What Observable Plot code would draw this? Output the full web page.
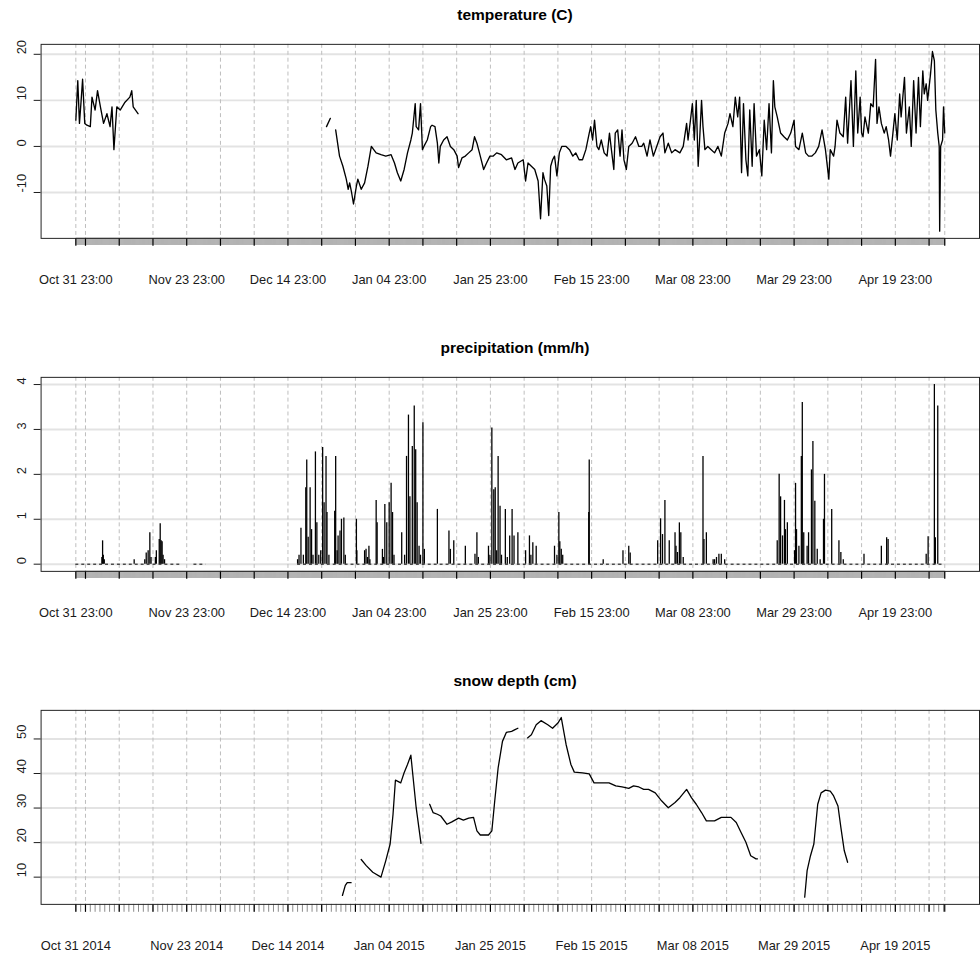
<!DOCTYPE html>
<html><head><meta charset="utf-8">
<script src="https://cdn.jsdelivr.net/npm/d3@7"></script>
<script src="https://cdn.jsdelivr.net/npm/@observablehq/plot@0.6"></script>
<style>
html,body{margin:0;padding:0;background:#fff;overflow:hidden;width:980px;height:958px}
.title{font:bold 15.5px "Liberation Sans",Arial,sans-serif;height:30px;line-height:30px;text-align:center;margin-left:41px;width:948px;color:#000}
svg{display:block}
</style></head>
<body>
<div id="root"></div>
<script>
// ---------------- DATA ----------------
// time is given in days after the first observation (2014-10-31 23:00)
const startTime = "2014-10-31T23:00:00Z";
const endDay = 180.25;

const tempDay = [0.0,0.4,0.75,1.1,1.4,1.85,2.3,3.0,3.35,4.0,4.5,5.1,5.75,6.45,7.1,7.5,7.9,8.5,9.2,10.2,11.2,11.6,11.9,12.9,
 null,
 52.0,52.8,
 null,
 53.9,54.4,54.7,55.4,56.1,56.5,56.8,57.2,57.6,58.2,58.5,59.2,59.9,60.6,61.3,61.6,62.3,63.3,64.3,65.4,66.1,66.7,67.4,68.1,68.8,69.5,69.8,70.4,70.6,71.1,71.5,71.9,72.2,72.9,73.6,73.9,74.5,75.0,75.3,75.6,76.3,77.0,77.7,78.4,79.1,79.4,80.1,80.8,81.5,82.2,82.7,83.2,83.9,84.6,85.2,85.9,86.6,87.3,88.3,89.3,90.4,91.1,91.7,92.8,93.3,93.8,94.5,95.2,95.9,96.4,96.9,97.2,97.7,98.1,98.5,98.9,99.3,99.8,100.3,100.8,101.7,102.4,103.1,103.7,104.4,105.1,105.8,106.5,106.8,107.2,107.6,108.1,108.5,109.0,109.6,110.2,110.7,111.1,111.6,111.9,112.4,112.9,113.3,113.7,114.2,114.7,115.4,116.1,116.8,117.4,
 117.8,118.5,119.1,119.8,120.5,121.2,121.8,122.2,122.9,123.6,124.3,125.3,126.0,126.7,127.0,127.5,127.9,128.3,128.7,129.1,129.4,129.8,130.1,130.5,131.1,131.8,132.5,133.2,133.9,134.6,135.3,135.7,136.3,136.8,137.3,137.7,138.1,138.5,139.0,139.4,139.8,140.3,140.7,141.2,141.8,142.3,142.8,143.3,143.8,144.3,144.7,145.0,145.5,146.2,146.9,147.6,148.3,149.0,149.3,150.0,150.7,151.4,152.0,152.7,153.4,154.1,154.8,155.5,156.2,156.5,157.2,157.5,157.9,158.5,159.2,159.7,160.1,160.8,161.3,161.8,162.2,162.7,163.0,163.3,163.7,164.4,164.9,165.4,165.9,166.2,166.6,167.1,167.7,168.1,168.6,169.0,169.5,169.9,170.4,170.9,171.2,171.9,172.3,172.9,173.3,173.8,174.3,174.8,175.2,175.7,176.0,176.4,176.7,177.3,177.7,178.1,178.4,178.8,179.1,179.2,179.4,179.8,180.0,180.25];
const tempC = [5.7,14.3,5.0,10,14.6,5.0,4.6,4.3,10.7,7.9,12.1,8.6,5.0,7.1,4.3,8.6,-0.7,8.6,7.9,9.6,10.7,12.1,8.6,7.1,
 null,
 4.3,6.1,
 null,
 3.6,0,-2.1,-4.3,-7.1,-9.3,-7.9,-10,-12.5,-8.6,-7.1,-9.3,-7.9,-4.3,0,-0.4,-1.4,-1.8,-2.1,-1.8,-3.6,-5.7,-7.5,-5.0,-1.4,1.4,2.9,9.3,4.3,3.6,9.3,-0.7,0,1.4,4.3,4.6,4.3,0.7,-3.6,0,1.4,2.1,0,-0.7,-2.1,-4.6,-2.5,-2.1,-1.4,-0.7,2.1,0.7,-2.1,-5.0,-3.6,-2.1,-2.1,-1.4,-1.8,-2.9,-2.5,-5.0,-3.6,-2.9,-7.5,-3.6,-4.3,-5.0,-7.5,-15.7,-5.7,-7.1,-8.6,-15.0,-4.3,-2.9,-2.1,-6.4,-1.4,0,0,-0.7,-2.1,-1.4,-2.9,-2.9,-0.7,2.9,4.3,1.4,5.7,0,-0.7,1.4,-1.4,-2.1,2.9,-0.7,-5.0,2.9,3.6,-2.1,3.6,-2.9,-5.0,0,0.7,2.1,0,0,
 0.7,-2.1,1.4,-2.1,0,2.1,2.9,-1.4,0.7,-1.4,-0.7,-1.4,0,5.0,1.4,5.7,9.3,1.4,10,-4.3,1.4,10,4.3,-0.7,0,-0.7,-1.4,0,-2.1,2.9,5.0,7.1,4.3,10.7,6.4,10.7,-5.7,9.3,-2.9,-6.4,7.9,-4.3,9.3,-2.1,-0.7,-6.4,5.7,-0.7,9.3,-1.4,14.3,8.6,6.4,2.9,2.1,1.4,2.9,5.7,0,-0.7,2.9,-1.4,-2.1,-2.1,-1.4,0,3.6,-0.7,-7.1,-0.7,-2.1,0,5.7,2.9,2.1,10.7,0.7,14.3,0,16.4,2.9,10.7,2.9,2.1,6.4,2.9,9.3,8.6,18.9,5.0,8.6,5.0,2.9,4.3,1.4,-2.1,2.9,7.1,1.4,11.4,6.4,15.0,2.9,8.6,0,14.3,2.9,15.0,4.3,16.4,11.4,13.6,10,15.7,20.6,18.6,7.9,2.9,0,-18.4,0,1.4,8.6,2.9];

const precipDay = [5.4,5.55,5.7,5.9,12.1,14.3,14.6,15.0,15.35,15.6,16.5,16.7,17.3,17.5,17.7,17.9,18.1,18.4,
 46.0,46.3,46.7,47.2,47.7,47.9,48.2,48.6,48.9,49.2,49.7,50.0,50.4,50.8,51.2,51.5,51.9,52.1,52.5,53.7,53.9,54.2,54.4,54.8,55.1,55.6,55.9,58.2,58.3,
 59.9,60.2,60.5,60.8,61.0,62.3,62.5,63.6,63.8,64.1,64.5,65.0,65.4,65.7,66.0,67.6,68.2,68.6,69.0,69.3,69.8,70.2,70.5,70.8,71.2,71.5,72.0,72.3,75.0,77.4,77.7,78.4,80.8,82.8,83.2,83.5,
 85.6,85.9,86.3,86.7,87.0,87.3,87.6,88.0,88.3,89.1,89.5,90.0,90.5,90.9,91.7,93.3,94.1,94.4,94.8,95.5,99.3,99.8,100.2,100.4,100.7,101.0,106.4,106.5,109.4,113.5,114.7,115.0,
 120.7,121.3,121.7,122.2,123.1,124.3,124.5,124.8,125.2,125.5,126.0,130.1,130.3,130.8,132.2,132.5,132.9,133.4,133.9,134.6,
 145.5,145.9,146.2,146.6,147.0,147.2,147.6,149.1,149.3,149.5,150.0,150.5,150.7,151.0,151.7,152.0,152.6,152.9,153.3,153.8,154.4,155.1,155.3,156.8,158.3,158.7,159.2,163.5,167.1,168.2,168.5,176.4,176.8,178.1,178.3,178.8];
const precipMm = [0.15,0.52,0.2,0.1,0.1,0.1,0.25,0.3,0.7,0.15,0.15,0.3,0.55,0.9,0.52,0.5,0.2,0.1,
 0.1,0.2,0.8,0.2,1.7,2.32,0.6,1.7,0.77,0.2,2.5,0.92,0.2,0.3,2.6,1.37,2.4,1.15,0.2,1.18,2.4,0.3,0.63,0.74,1.0,1.03,0.2,1.0,0.3,
 0.3,0.33,0.15,0.4,0.1,1.42,0.92,0.33,0.15,1.33,0.92,1.37,1.8,1.15,0.2,0.7,0.2,2.4,3.32,1.5,2.62,3.52,2.55,1.37,0.4,0.2,3.15,0.33,1.22,0.74,0.33,0.52,0.4,0.22,0.7,0.15,
 0.4,0.2,3.03,1.66,1.7,0.3,2.4,1.29,0.2,1.22,0.15,0.63,1.22,0.63,0.7,0.3,0.63,0.2,0.48,0.4,0.4,0.2,1.15,0.5,0.33,0.2,1.15,2.32,0.1,0.3,0.4,0.25,
 0.52,1.01,0.66,1.42,0.52,0.7,0.4,0.26,0.92,0.7,0.15,2.4,0.55,0.7,0.1,0.1,0.15,0.22,0.22,0.1,
 0.52,2.0,1.5,0.63,1.42,0.77,0.92,0.3,1.8,0.77,0.4,2.4,3.6,0.7,0.4,0.7,2.1,2.73,1.4,0.33,0.1,1.0,2.0,1.22,0.52,0.26,0.1,0.22,0.4,0.59,0.55,0.22,0.61,4.0,0.59,3.52];
// periods with precipitation records (zero baseline)
const precipFrom = [0, 24.5, 46.0];
const precipTo   = [21.8, 27.0, 180.25];

const snowDay = [55.3,55.9,56.3,57.1,
 null,
 59.2,60.2,61.6,63.3,64.3,65.2,65.8,66.3,66.7,67.4,68.1,68.8,69.5,69.9,70.6,71.6,
 null,
 73.4,74.1,75.0,75.7,77.0,78.0,79.4,80.4,81.5,82.5,83.2,83.9,85.6,86.3,86.9,87.6,88.5,89.3,90.4,91.1,91.7,
 null,
 93.7,94.5,95.5,96.5,97.9,98.9,100.0,100.7,101.7,102.7,103.4,105.1,106.5,107.5,110.6,112.0,113.3,114.7,115.7,116.8,117.8,118.8,120.2,121.5,122.9,124.3,125.3,126.7,127.7,128.7,129.8,130.8,132.5,133.9,135.9,137.0,138.0,139.0,140.0,141.1,141.4,
 null,
 151.2,151.7,152.4,153.1,153.9,154.6,155.5,156.5,157.2,158.1,158.7,159.4,160.1];
const snowCm = [4.7,7.6,8.4,8.4,
 null,
 15.1,13.4,11.4,10.0,14.8,19.6,28.2,38.1,37.8,37.3,40.2,42.6,45.3,39.7,30.1,19.8,
 null,
 31.1,28.7,28.2,27.7,25.3,26.0,27.1,26.5,27.1,27.3,23.4,22.2,22.2,23.4,32.1,41.6,49.3,51.9,52.2,52.7,53.1,
 null,
 50.3,51.2,54.1,55.3,54.1,53.1,54.6,56.2,48.4,42.6,40.4,40.2,39.9,37.3,37.3,36.4,36.1,35.7,36.4,36.1,35.4,35.4,34.4,32.1,30.1,31.6,33.0,35.4,33.0,31.1,28.7,26.3,26.3,27.3,27.3,25.8,22.9,20.1,16.2,15.3,15.3,
 null,
 4.2,11.9,16.2,19.6,31.1,34.4,35.2,34.9,33.5,30.6,24.4,17.7,14.3];

const tempTicks = [-10, 0, 10, 20];
const precipTicks = [0, 1, 2, 3, 4];
const snowTicks = [10, 20, 30, 40, 50];
const labelledDays = ["2014-10-31","2014-11-23","2014-12-14","2015-01-04","2015-01-25","2015-02-15","2015-03-08","2015-03-29","2015-04-19"];
const titles = ["temperature (C)", "precipitation (mm/h)", "snow depth (cm)"];

// ---------------- CHART ----------------
const DAY = 864e5;
const t0 = new Date(startTime).getTime();
const toDate = d => (d == null ? null : new Date(t0 + d * DAY));
const tEnd = t0 + endDay * DAY;
const span = tEnd - t0;
const xDomain = [new Date(t0 - 0.04 * span), new Date(tEnd + 0.04 * span)];

// major ticks: start, weekly (Sunday 23:00), end
const majorTicks = [new Date(t0)];
for (let t = Date.UTC(2014, 10, 2, 23); t < tEnd; t += 7 * DAY) majorTicks.push(new Date(t));
majorTicks.push(new Date(tEnd));
const hourly = d3.utcHour.range(new Date(t0), new Date(tEnd + 1));
const daily = [];
for (let t = t0; t <= tEnd; t += DAY) daily.push(new Date(t));
const labelSet = new Set(labelledDays);
const fmtHour = d3.utcFormat("%b %d %H:%M");
const fmtYear = d3.utcFormat("%b %d %Y");
const keyOf = d3.utcFormat("%Y-%m-%d");

function ext(vals) {
  const v = vals.filter(x => x != null);
  const lo = d3.min(v), hi = d3.max(v), r = hi - lo;
  return [lo - 0.04 * r, hi + 0.04 * r];
}

function panel(title, marks, yDomain, yTicks, fmt, minor, minorStroke, minorSize) {
  const t = document.createElement("div");
  t.className = "title";
  t.textContent = title;
  root.appendChild(t);
  const svg = Plot.plot({
    width: 990, height: 306,
    marginLeft: 41, marginRight: 1, marginTop: 14, marginBottom: 96,
    x: {type: "utc", domain: xDomain},
    y: {domain: yDomain},
    style: {fontFamily: "'Liberation Sans', Arial, sans-serif", fontSize: "13px", color: "#1a1a1a", background: "#fff"},
    marks: [
      Plot.gridY(yTicks, {stroke: "#e3e3e3", strokeOpacity: 1, strokeWidth: 2}),
      Plot.gridX(majorTicks, {stroke: "#bdbdbd", strokeOpacity: 1, strokeDasharray: "4,3"}),
      ...marks,
      Plot.axisX(minor, {tickSize: minorSize, stroke: minorStroke, fill: "none", label: null}),
      Plot.axisX(majorTicks, {tickSize: 8, tickPadding: 29, stroke: "#000", strokeWidth: 1.2,
        tickFormat: d => labelSet.has(keyOf(d)) ? fmt(d) : "", label: null}),
      Plot.axisY(yTicks, {tickSize: 7, fill: "none", label: null}),
      Plot.text(yTicks, {y: d => d, text: d => String(d), frameAnchor: "left", dx: -19, rotate: -90, fontSize: 13, fill: "#1a1a1a"}),
      Plot.frame({stroke: "#222"})
    ]
  });
  root.appendChild(svg);
}

const root = document.getElementById("root");
const tIdx = d3.range(tempDay.length);
panel(titles[0], [
  Plot.line(tIdx, {x: i => toDate(tempDay[i]), y: i => tempC[i] == null ? NaN : tempC[i], stroke: "#000", strokeWidth: 1.35})
], ext(tempC), tempTicks, fmtHour, hourly, "#b4b4b4", 7);

const pIdx = d3.range(precipDay.length);
const cIdx = d3.range(precipFrom.length);
panel(titles[1], [
  Plot.ruleY(cIdx, {y: 0, x1: i => toDate(precipFrom[i]), x2: i => toDate(precipTo[i]), stroke: "#000", strokeDasharray: "3,3"}),
  Plot.ruleX(pIdx, {x: i => toDate(precipDay[i]), y1: 0, y2: i => precipMm[i], stroke: "#000", strokeWidth: 1.3})
], ext([0, ...precipMm]), precipTicks, fmtHour, hourly, "#b4b4b4", 7);

const sIdx = d3.range(snowDay.length);
panel(titles[2], [
  Plot.line(sIdx, {x: i => toDate(snowDay[i]), y: i => snowCm[i] == null ? NaN : snowCm[i], stroke: "#000", strokeWidth: 1.3})
], ext(snowCm), snowTicks, fmtYear, daily, "#8a8a8a", 8);
</script>
</body></html>
